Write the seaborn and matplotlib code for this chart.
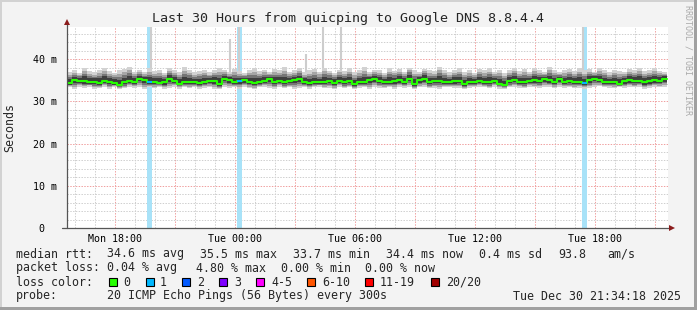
import numpy as np
import pandas as pd
import matplotlib
matplotlib.use("Agg")
import matplotlib.pyplot as plt
from matplotlib.patches import Rectangle
import seaborn as sns

# ---------------- data ----------------
title = "Last 30 Hours from quicping to Google DNS 8.8.4.4"
start_hour = 15.6      # hours after Mon 00:00 (Mon 15:36)
step_hours = 0.25

median_rtt = [
    34.3, 35.0, 34.8, 34.8, 34.5, 34.6, 34.3, 34.8, 34.6, 34.3, 33.9, 34.5, 34.8, 34.6,
    35.4, 35.0, 34.5, 34.6, 34.4, 34.5, 35.2, 34.8, 34.2, 34.5, 34.6, 34.5, 34.3,
    34.6, 34.7, 34.8, 34.1, 35.4, 35.0, 34.5, 34.7, 35.0, 34.6, 34.3, 34.6, 34.9, 35.2,
    34.6, 34.8, 34.5, 34.8, 35.0, 35.2, 34.6, 34.3, 34.5, 34.5, 34.6, 34.8, 34.3, 34.8,
    34.5, 34.8, 34.0, 34.5, 34.6, 35.0, 35.2, 34.8, 34.6, 34.5, 34.8, 35.0, 34.6, 35.4,
    34.2, 35.0, 35.3, 34.5, 34.8, 34.9, 34.6, 34.5, 34.8, 34.8, 34.1, 34.5, 34.6, 34.9,
    34.6, 34.5, 34.8, 34.2, 33.9, 34.8, 35.0, 34.6, 34.5, 34.8, 35.0, 34.8, 35.2, 35.0,
    34.6, 35.2, 34.5, 34.8, 34.6, 34.5, 34.3, 35.0, 35.4, 35.0, 34.6, 34.5, 34.6, 34.2,
    34.7, 35.0, 34.8, 34.9, 34.5, 34.7, 35.0, 34.9, 35.3,
]
smoke_high = [
    37.0, 37.4, 36.8, 37.9, 37.2, 36.9, 37.5, 38.0, 37.1, 36.8, 37.3, 37.6, 38.2, 37.0,
    37.4, 36.9, 37.8, 37.2, 37.5, 36.8, 37.9, 37.3, 37.0, 38.1, 37.4, 36.9, 37.2,
    37.5, 36.9, 37.3, 38.0, 37.4, 37.0, 37.6, 37.2, 36.8, 37.4, 37.9, 37.1, 37.5, 36.9,
    37.7, 37.3, 38.2, 37.0, 37.4, 37.8, 36.9, 37.3, 37.6, 37.0, 37.9, 37.2, 36.8, 37.5,
    37.2, 37.8, 36.9, 37.4, 38.1, 37.0, 37.5, 37.3, 36.8, 37.9, 37.2, 37.6, 37.0, 38.0,
    37.3, 36.9, 37.7, 37.4, 37.1, 38.2, 37.5, 36.9, 37.3, 37.8, 37.0, 37.4, 36.8, 37.6,
    37.3, 37.9, 37.0, 37.5, 36.8, 37.4, 38.0, 37.2, 37.6, 36.9, 37.8, 37.3, 37.0, 38.1,
    37.5, 36.9, 37.4, 37.7, 37.1, 37.9, 37.3, 37.6, 37.0, 37.8, 37.4, 36.9, 37.5, 37.2,
    37.0, 37.6, 37.3, 37.9, 37.1, 37.5, 37.8, 37.2, 37.0,
]
smoke_low = [
    33.3, 33.0, 33.4, 33.1, 33.5, 32.9, 33.2, 33.4, 33.0, 33.3, 32.8, 33.1, 33.4, 33.2,
    33.5, 33.0, 33.3, 33.1, 33.4, 32.9, 33.2, 33.5, 33.0, 33.3, 33.1, 33.4, 33.0,
    33.2, 33.4, 33.0, 32.9, 33.5, 33.2, 33.3, 33.0, 33.4, 33.1, 32.9, 33.3, 33.5, 33.2,
    33.0, 33.4, 33.1, 33.3, 32.9, 33.2, 33.4, 33.0, 33.3, 33.5, 33.1, 33.2, 32.9, 33.4,
    33.1, 33.3, 32.8, 33.2, 33.4, 33.0, 33.5, 33.2, 33.1, 33.3, 33.0, 33.4, 33.2, 33.5,
    32.9, 33.3, 33.4, 33.1, 33.2, 33.0, 33.3, 33.4, 33.1, 33.2, 32.8, 33.2, 33.3, 33.4,
    33.3, 33.1, 33.4, 33.0, 32.8, 33.3, 33.5, 33.2, 33.1, 33.4, 33.3, 33.2, 33.5, 33.4,
    33.1, 33.5, 33.2, 33.3, 33.1, 33.2, 33.0, 33.1, 33.4, 33.6, 33.3, 33.2, 33.1, 33.3,
    33.2, 33.4, 33.3, 33.5, 33.0, 33.2, 33.4, 33.3, 33.5,
]
spike_hours = [19.8, 23.75, 24.2, 27.55, 28.4, 29.3, 41.4]
spike_tops = [48.0, 44.7, 48.0, 41.2, 48.0, 48.0, 48.0]
loss_hours = [19.7, 24.2, 41.45]
loss_counts = [1, 1, 1]

x_tick_hours = [18, 21, 24, 27, 30, 33, 36, 39, 42, 45]
x_tick_labels = ["Mon 18:00", "", "Tue 00:00", "", "Tue 06:00", "", "Tue 12:00", "", "Tue 18:00", ""]
y_ticks = [0, 10, 20, 30, 40]
y_tick_labels = ["0  ", "10 m", "20 m", "30 m", "40 m"]

rtt_stats = ["34.6 ms avg", "35.5 ms max", "33.7 ms min", "34.4 ms now", "0.4 ms sd", "93.8", "am/s"]
loss_stats = ["0.04 % avg", "4.80 % max", "0.00 % min", "0.00 % now"]
loss_color_labels = ["0", "1", "2", "3", "4-5", "6-10", "11-19", "20/20"]
loss_color_values = ["#26ff00", "#00b8ff", "#0059ff", "#7e00ff", "#ff00ff", "#ff5500", "#ff0000", "#a10000"]
probe_text = "20 ICMP Echo Pings (56 Bytes) every 300s"
stamp_text = "Tue Dec 30 21:34:18 2025"

# ---------------- style ----------------
sns.set_style("white")
plt.rcParams["font.family"] = ["DejaVu Sans Mono"]

W, H = 697, 310
def fx(px):
    return px / W
def fy(py):
    return 1 - py / H

fig = plt.figure(figsize=(W / 100, H / 100), dpi=100, facecolor="#f3f3f3")

# 3D-ish frame
fig.patches.append(Rectangle((0, fy(2)), 1, 2 / H, transform=fig.transFigure, color="#d2d2d2", lw=0))
fig.patches.append(Rectangle((0, 0), 2 / W, 1, transform=fig.transFigure, color="#d2d2d2", lw=0))
fig.patches.append(Rectangle((0, 0), 1, 3 / H, transform=fig.transFigure, color="#a0a0a0", lw=0))
fig.patches.append(Rectangle((fx(694), 0), 3 / W, 1, transform=fig.transFigure, color="#a0a0a0", lw=0))

ax = fig.add_axes([fx(67), fy(228), fx(668) - fx(67), fy(27) - fy(228)])
ax.set_facecolor("white")

n = len(median_rtt)
med = np.array(median_rtt)
hi = np.array(smoke_high)
lo = np.array(smoke_low)
edges = start_hour + step_hours * np.arange(n + 1)

def ext(a):
    return np.append(a, a[-1])

# loss bars
loss_idx = [int((h - start_hour) // step_hours) for h in loss_hours]
for i, c in zip(loss_idx, loss_counts):
    ax.axvspan(edges[i] + 0.02, edges[i + 1] - 0.02, color="#a8e2f8", lw=0, zorder=1.2)

# spikes
ax.vlines(spike_hours, 35, spike_tops, color="#cdcdcd", lw=1.5, zorder=1.5)

# smoke layers
for frac, col in zip([1.0, 0.75, 0.55, 0.35], ["#d2d2d2", "#a6a6a6", "#767676", "#3e3e3e"]):
    top = med + (hi - med) * frac
    bot = med - (med - lo) * frac
    ax.fill_between(edges, ext(bot), ext(top), step="post", color=col, lw=0, zorder=2)

# median line
df = pd.DataFrame({"hour": edges, "rtt": ext(med)})
sns.lineplot(data=df, x="hour", y="rtt", drawstyle="steps-post", color="#26ff00",
             linewidth=1.5, ax=ax, zorder=3)
for i, c in zip(loss_idx, loss_counts):
    ax.plot([edges[i], edges[i + 1]], [med[i], med[i]], color=loss_color_values[c],
            lw=1.5, zorder=4, solid_capstyle="butt")

ax.set_xlim(15.6, 45.65)
ax.set_ylim(0, 47.6)
ax.set_xlabel("")
ax.set_ylabel("")

# ticks / grid
ax.set_xticks(x_tick_hours)
ax.set_xticklabels(x_tick_labels)
ax.set_xticks(np.arange(16, 46), minor=True)
ax.set_yticks(y_ticks)
ax.set_yticklabels(y_tick_labels)
ax.set_yticks(np.arange(0, 48, 2), minor=True)
ax.set_axisbelow(True)
ax.grid(which="minor", color="#cfcfcf", linestyle=(0, (1.4, 1.4)), linewidth=0.72)
ax.grid(which="major", color="#f0a0a0", linestyle=(0, (1.4, 1.4)), linewidth=0.72)
ax.tick_params(axis="both", which="major", length=1.5, width=0.72, color="#e07070",
               labelsize=7.2, labelcolor="black")
ax.tick_params(axis="both", which="minor", length=1.5, width=0.72, color="#bbbbbb")
ax.tick_params(axis="x", which="major", pad=3)
ax.tick_params(axis="y", which="major", pad=5.5)
for s in ax.spines.values():
    s.set_visible(False)

# axes with arrows
ax.plot([-5 / 601, 1 + 3 / 601], [0, 0], transform=ax.transAxes, clip_on=False,
        color="#555555", lw=0.9, zorder=5)
ax.plot([0, 0], [0, 1 + 3 / 201], transform=ax.transAxes, clip_on=False,
        color="#555555", lw=0.9, zorder=5)
ax.plot([1 + 4 / 601], [0], marker=">", ms=4.5, color="#8b1c1c", transform=ax.transAxes,
        clip_on=False, zorder=6, mew=0)
ax.plot([0], [1 + 5 / 201], marker="^", ms=4.5, color="#8b1c1c", transform=ax.transAxes,
        clip_on=False, zorder=6, mew=0)

# texts
fig.text(fx(348), fy(18.5), title, ha="center", va="center", fontsize=9.6)
fig.text(fx(10), fy(127), "Seconds", rotation=90, ha="center", va="center", fontsize=8.4)
fig.text(fx(688), fy(60), "RRDTOOL / TOBI OETIKER", rotation=270, ha="center", va="center",
         fontsize=6.0, color="#aaaaaa")

fs = 8.4
def put(x, y, s, **kw):
    fig.text(fx(x), fy(y), s, ha="left", va="center", fontsize=fs, **kw)

put(16, 254, "median rtt:")
for x, s in zip([107, 200, 293, 386, 479, 558, 607], rtt_stats):
    put(x, 254, s)
put(16, 268, "packet loss:")
for x, s in zip([107, 196, 281, 365], loss_stats):
    put(x, 268, s)
put(16, 282, "loss color:")
for bx, lx, lab, col in zip([109, 146, 182, 219, 256, 307, 365, 431],
                            [123, 160, 197, 234, 271, 322, 380, 446],
                            loss_color_labels, loss_color_values):
    fig.patches.append(Rectangle((fx(bx), fy(286)), 8 / W, 8 / H, transform=fig.transFigure,
                                 facecolor=col, edgecolor="black", lw=0.8))
    put(lx, 282, lab)
put(16, 296, "probe:")
put(107, 296, probe_text)
put(513, 296, stamp_text)

fig.savefig("out.png", dpi=100, facecolor=fig.get_facecolor())
